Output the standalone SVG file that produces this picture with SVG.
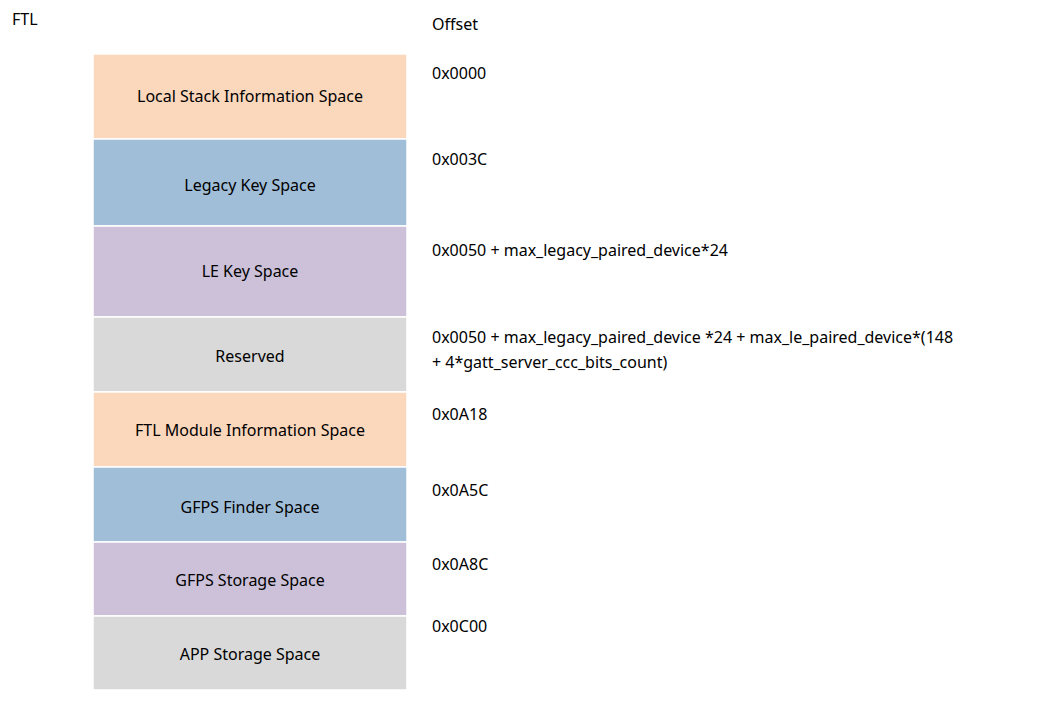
<svg xmlns="http://www.w3.org/2000/svg" width="1057" height="704" viewBox="0 0 1057 704">
<style>
text{font-family:"Noto Sans","Liberation Sans",sans-serif;font-size:16px;fill:#000}
.c{text-anchor:middle}
.o{fill:#fbd7bc}.b{fill:#a1bed8}.p{fill:#ccc1d9}.g{fill:#d9d9d9}
rect{stroke:#fff;stroke-width:1.5}
</style>
<rect width="1057" height="704" fill="#fff" stroke="none"/>
<text x="12" y="25">FTL</text>
<text x="432" y="30">Offset</text>
<g id="n1"><rect class="o" x="93" y="54" width="314" height="85"/><text class="c" x="250" y="102">Local Stack Information Space</text></g>
<g id="n2"><rect class="b" x="93" y="139" width="314" height="87"/><text class="c" x="250" y="191">Legacy Key Space</text></g>
<g id="n3"><rect class="p" x="93" y="226" width="314" height="91"/><text class="c" x="250" y="277">LE Key Space</text></g>
<g id="n4"><rect class="g" x="93" y="317" width="314" height="75"/><text class="c" x="250" y="362">Reserved</text></g>
<g id="n5"><rect class="o" x="93" y="392" width="314" height="75"/><text class="c" x="250" y="436">FTL Module Information Space</text></g>
<g id="n6"><rect class="b" x="93" y="467" width="314" height="75"/><text class="c" x="250" y="513">GFPS Finder Space</text></g>
<g id="n7"><rect class="p" x="93" y="542" width="314" height="74"/><text class="c" x="250" y="586">GFPS Storage Space</text></g>
<g id="n8"><rect class="g" x="93" y="616" width="314" height="74"/><text class="c" x="250" y="660">APP Storage Space</text></g>
<g id="offsets">
<text x="432" y="79">0x0000</text>
<text x="432" y="165">0x003C</text>
<text x="432" y="256">0x0050 + max_legacy_paired_device*24</text>
<text x="432" y="343">0x0050 + max_legacy_paired_device *24 + max_le_paired_device*(148</text>
<text x="432" y="368">+ 4*gatt_server_ccc_bits_count)</text>
<text x="432" y="420">0x0A18</text>
<text x="432" y="496">0x0A5C</text>
<text x="432" y="570">0x0A8C</text>
<text x="432" y="632">0x0C00</text>
</g>
<g id="connectors"/>
</svg>
